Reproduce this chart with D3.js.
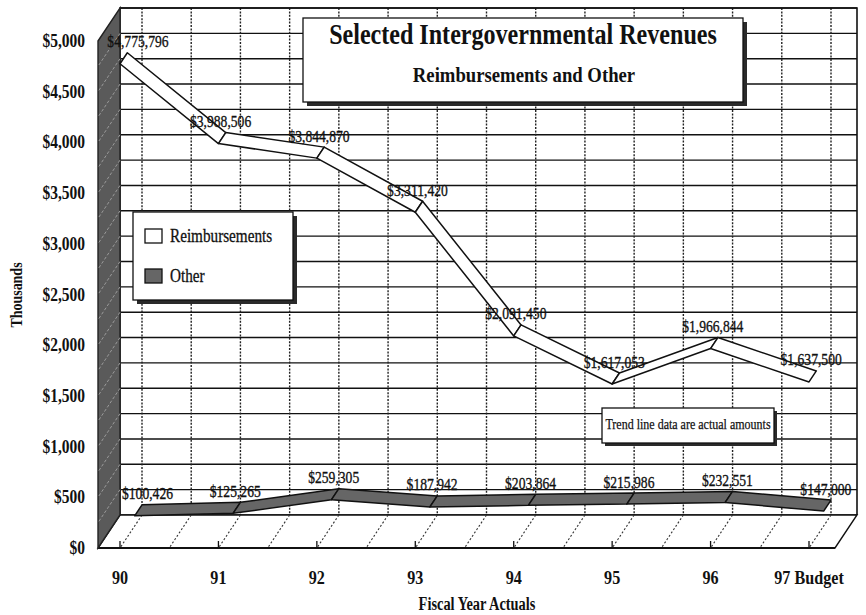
<!DOCTYPE html>
<html>
<head>
<meta charset="utf-8">
<script src="https://cdn.jsdelivr.net/npm/d3@7"></script>
<style>
  html, body { margin: 0; padding: 0; background: #ffffff; }
  svg { display: block; }
  text { font-family: "Liberation Serif", "Times New Roman", serif; fill: #111; }
</style>
</head>
<body>
<svg id="chart" width="866" height="615"></svg>
<script>
// Fiscal years on the category axis
const categories = ["90", "91", "92", "93", "94", "95", "96", "97 Budget"];
// Revenues in thousands of dollars
const reimbursements = [4775.796, 3988.506, 3844.870, 3311.420, 2091.450, 1617.053, 1966.844, 1637.500];
const other = [100.426, 125.265, 259.305, 187.942, 203.864, 215.986, 232.551, 147.000];
// Value axis ticks (thousands)
const yTicks = [0, 500, 1000, 1500, 2000, 2500, 3000, 3500, 4000, 4500, 5000];
const gridStep = 250;

const svg = d3.select("#chart");

// Plot frame and 3-D depth offset
const left = 98, right = 835;
const DX = 22, DY = -33;

const x = d3.scalePoint().domain(categories).range([120, 809]);
const y = d3.scaleLinear().domain([0, 5000]).range([548, 41]);
const step = x.step();

// projection of (category position, value, depth 0..1) onto the page
const proj = (xf, v, z) => [xf + z * DX, y(v) + z * DY];

// squeeze text horizontally (narrow typeface look)
function squeeze(sel, f) {
  sel.each(function () {
    const len = this.getComputedTextLength();
    d3.select(this).attr("textLength", len * f).attr("lengthAdjust", "spacingAndGlyphs");
  });
}

const line = d3.line();

// ---- back wall ----
const backTop = y(5000) + DY, backBottom = y(0) + DY;
svg.append("rect")
  .attr("x", left + DX).attr("y", backTop)
  .attr("width", right - left).attr("height", backBottom - backTop)
  .attr("fill", "#fff");

// horizontal grid on back wall
const gridVals = d3.range(0, 5000 + 1, gridStep);
svg.append("g").selectAll("line").data(gridVals).join("line")
  .attr("x1", left + DX).attr("x2", right + DX)
  .attr("y1", d => y(d) + DY).attr("y2", d => y(d) + DY)
  .attr("stroke", "#111").attr("stroke-width", 1.4);

// vertical grid on back wall (categories and mid points)
const vPos = [];
categories.forEach((c, i) => {
  vPos.push(x(c));
  if (i < categories.length - 1) vPos.push(x(c) + step / 2);
});
svg.append("g").selectAll("line").data(vPos).join("line")
  .attr("x1", d => d + DX).attr("x2", d => d + DX)
  .attr("y1", backTop).attr("y2", backBottom)
  .attr("stroke", "#222").attr("stroke-width", 1.4)
  .attr("stroke-dasharray", "2,1.4");

// back wall border
svg.append("path")
  .attr("d", line([[left + DX, backBottom], [left + DX, backTop], [right + DX, backTop], [right + DX, backBottom]]))
  .attr("fill", "none").attr("stroke", "#111").attr("stroke-width", 1.6);

// ---- floor ----
svg.append("path")
  .attr("d", line([[left, y(0)], [right, y(0)], [right + DX, backBottom], [left + DX, backBottom]]) + "Z")
  .attr("fill", "#fff").attr("stroke", "#111").attr("stroke-width", 1.4);
svg.append("g").selectAll("line").data(vPos).join("line")
  .attr("x1", d => d + DX).attr("y1", backBottom)
  .attr("x2", d => d).attr("y2", y(0))
  .attr("stroke", "#333").attr("stroke-width", 1.1)
  .attr("stroke-dasharray", "2,2");
svg.append("line")
  .attr("x1", left).attr("x2", right).attr("y1", y(0)).attr("y2", y(0))
  .attr("stroke", "#111").attr("stroke-width", 2.2);

// category ticks on the front edge
svg.append("g").selectAll("line").data(categories).join("line")
  .attr("x1", d => x(d)).attr("x2", d => x(d))
  .attr("y1", y(0)).attr("y2", y(0) - 7)
  .attr("stroke", "#111").attr("stroke-width", 1.3);

// ---- left side wall ----
svg.append("path")
  .attr("d", line([[left, y(5000)], [left + DX, backTop], [left + DX, backBottom], [left, y(0)]]) + "Z")
  .attr("fill", "#5a5a5a").attr("stroke", "#222").attr("stroke-width", 1.4);
svg.append("g").selectAll("line").data(gridVals.filter(v => v > 0 && v < 5000)).join("line")
  .attr("x1", left + DX).attr("y1", d => y(d) + DY)
  .attr("x2", left).attr("y2", d => y(d))
  .attr("stroke", "#9a9a9a").attr("stroke-width", 1)
  .attr("stroke-dasharray", "3,2");

// ---- ribbons ----
function ribbon(values, z0, z1, fill) {
  const g = svg.append("g");
  for (let i = 0; i < values.length - 1; i++) {
    const xa = x(categories[i]), xb = x(categories[i + 1]);
    const pts = [proj(xa, values[i], z0), proj(xb, values[i + 1], z0),
                 proj(xb, values[i + 1], z1), proj(xa, values[i], z1)];
    g.append("path")
      .attr("d", line(pts) + "Z")
      .attr("fill", fill).attr("stroke", "#111")
      .attr("stroke-width", 1.5).attr("stroke-linejoin", "round");
  }
  return g;
}
ribbon(other, 2 / 3, 1, "#666666");
ribbon(reimbursements, 0, 1 / 3, "#ffffff");

// ---- value labels ----
const fmt = v => "$" + d3.format(",")(Math.round(v * 1000));
function valueLabels(values, z0, z1) {
  const g = svg.append("g");
  values.forEach((v, i) => {
    const xf = x(categories[i]);
    const mid = xf + (z0 + z1) / 2 * DX - 1.5;
    const t = g.append("text")
      .attr("x", mid).attr("y", y(v) + z1 * DY - 5.5)
      .attr("text-anchor", "middle")
      .attr("font-size", 17)
      .attr("stroke", "#111").attr("stroke-width", 0.35)
      .text(fmt(v));
    squeeze(t, 0.8);
    const w = +t.attr("textLength");
    const minX = left + z1 * DX + w / 2 + 2;
    if (mid < minX) t.attr("x", minX);
  });
}
valueLabels(other, 2 / 3, 1);
valueLabels(reimbursements, 0, 1 / 3);

// ---- value axis labels ----
const yl = svg.append("g").selectAll("text").data(yTicks).join("text")
  .attr("x", 85).attr("y", d => y(d) + 6)
  .attr("text-anchor", "end")
  .attr("font-size", 18).attr("font-weight", "bold")
  .text(d => "$" + d3.format(",")(d));
squeeze(yl, 0.86);

// ---- category labels ----
const xl = svg.append("g").selectAll("text").data(categories).join("text")
  .attr("x", d => x(d)).attr("y", 584)
  .attr("text-anchor", "middle")
  .attr("font-size", 19).attr("font-weight", "bold")
  .text(d => d);
squeeze(xl, 0.85);

// axis titles
squeeze(svg.append("text")
  .attr("x", 477).attr("y", 610)
  .attr("text-anchor", "middle")
  .attr("font-size", 18).attr("font-weight", "bold")
  .text("Fiscal Year Actuals"), 0.8);

squeeze(svg.append("text")
  .attr("transform", "translate(22,295) rotate(-90)")
  .attr("text-anchor", "middle")
  .attr("font-size", 17).attr("font-weight", "bold")
  .text("Thousands"), 0.82);

// ---- title box ----
function shadowBox(bx, by, bw, bh, off) {
  svg.append("rect").attr("x", bx + off).attr("y", by + off)
    .attr("width", bw).attr("height", bh).attr("fill", "#2a2a2a");
  svg.append("rect").attr("x", bx).attr("y", by)
    .attr("width", bw).attr("height", bh)
    .attr("fill", "#fff").attr("stroke", "#111").attr("stroke-width", 1.3);
}
shadowBox(303, 18, 440, 84, 4);
squeeze(svg.append("text")
  .attr("x", 523).attr("y", 44)
  .attr("text-anchor", "middle")
  .attr("font-size", 29).attr("font-weight", "bold")
  .text("Selected Intergovernmental Revenues"), 0.83);
squeeze(svg.append("text")
  .attr("x", 524).attr("y", 82)
  .attr("text-anchor", "middle")
  .attr("font-size", 22).attr("font-weight", "bold")
  .text("Reimbursements and Other"), 0.85);

// ---- legend ----
shadowBox(133, 212, 160, 88, 4);
const legendItems = [
  { name: "Reimbursements", fill: "#ffffff", y: 236 },
  { name: "Other", fill: "#666666", y: 276 }
];
legendItems.forEach(d => {
  svg.append("rect").attr("x", 145).attr("y", d.y - 7)
    .attr("width", 17).attr("height", 14)
    .attr("fill", d.fill).attr("stroke", "#111").attr("stroke-width", 1.3);
  squeeze(svg.append("text")
    .attr("x", 170).attr("y", d.y + 6)
    .attr("font-size", 19)
    .attr("stroke", "#111").attr("stroke-width", 0.3)
    .text(d.name), 0.8);
});

// ---- note ----
shadowBox(602, 408, 172, 35, 3);
squeeze(svg.append("text")
  .attr("x", 688).attr("y", 429)
  .attr("text-anchor", "middle")
  .attr("font-size", 15)
  .attr("stroke", "#111").attr("stroke-width", 0.25)
  .text("Trend line data are actual amounts"), 0.8);
</script>
</body>
</html>
